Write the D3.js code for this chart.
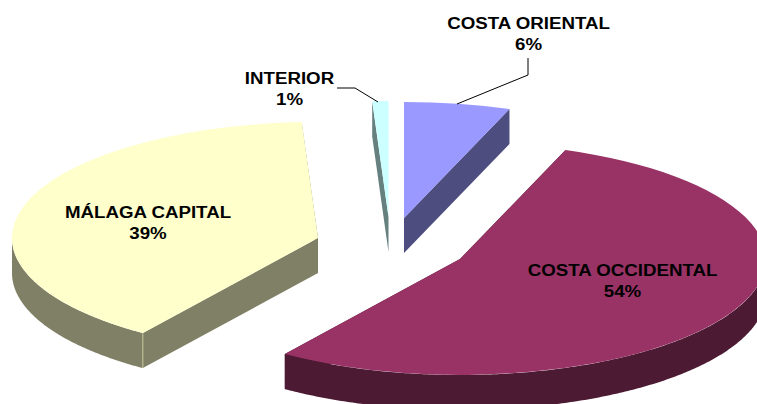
<!DOCTYPE html>
<html lang="es">
<head>
    <meta charset="UTF-8">
    <title>Distribución por zonas</title>
    <script src="https://d3js.org/d3.v7.min.js"></script>
    <style>
        html, body { margin: 0; padding: 0; background: #fff; overflow: hidden; }
        svg { display: block; }
        text {
            font-family: 'Liberation Sans', Arial, sans-serif;
            font-weight: bold;
            font-size: 17px;
            fill: #000;
            text-anchor: middle;
        }
    </style>
</head>
<body>
    <svg id="chart" width="757" height="404"></svg>

    <script>
        const zones = ['COSTA ORIENTAL', 'COSTA OCCIDENTAL', 'MÁLAGA CAPITAL', 'INTERIOR'];
        const shares = [5.6, 54.1, 39.45, 0.85];

        // Colores y posiciones de cada porción
        const topColors = ['#9999ff', '#993366', '#ffffcc', '#ccffff'];
        const sideColors = ['#4d4d80', '#4d1a33', '#808066', '#668080'];
        const centers = [[404, 218], [460, 259], [318, 238], [388.5, 217]];
        const labelPos = [[528.5, 29], [622.5, 276], [148, 218], [289.5, 84]];

        const rx = 306, ry = 116, depth = 35;

        const svg = d3.select('#chart');
        const pie = d3.pie().sort(null)(shares);
        const arc = d3.arc().innerRadius(0).outerRadius(1);
        const pct = d3.format('.0f');

        // Punto del borde de la elipse (ángulo desde arriba, horario)
        const edge = (a) => [rx * Math.sin(a), -ry * Math.cos(a)];
        const line = d3.line();

        pie.forEach((d, i) => {
            const g = svg.append('g')
                .attr('transform', `translate(${centers[i][0]},${centers[i][1]})`);
            const side = sideColors[i];

            // Paredes radiales
            [d.startAngle, d.endAngle].forEach(a => {
                const [x, y] = edge(a);
                g.append('path')
                    .attr('d', line([[0, 0], [x, y], [x, y + depth], [0, depth]]) + 'Z')
                    .attr('fill', side);
            });

            // Pared exterior, sólo la mitad delantera de la elipse
            const from = Math.max(d.startAngle, Math.PI / 2);
            const to = Math.min(d.endAngle, 3 * Math.PI / 2);
            if (from < to) {
                const angles = d3.range(from, to, 0.01).concat(to);
                const upper = angles.map(edge);
                const lower = upper.map(p => [p[0], p[1] + depth]).reverse();
                g.append('path')
                    .attr('d', line(upper.concat(lower)) + 'Z')
                    .attr('fill', side);

                // Arista clara donde se juntan la pared radial y la exterior
                if (d.startAngle > Math.PI / 2) {
                    const [x, y] = edge(d.startAngle);
                    g.append('path')
                        .attr('d', line([[x, y], [x, y + depth]]))
                        .attr('stroke', d3.color(side).brighter(1.2))
                        .attr('stroke-width', 1);
                }
            }

            // Cara superior
            g.append('path')
                .attr('d', arc(d))
                .attr('transform', `scale(${rx},${ry})`)
                .attr('fill', topColors[i]);
        });

        // Líneas guía
        const leaders = [
            [[457, 104], [528, 75], [528, 58]],
            [[378, 102], [355, 88], [337, 88]]
        ];
        leaders.forEach(pts => {
            svg.append('path')
                .attr('d', line(pts))
                .attr('fill', 'none')
                .attr('stroke', '#000')
                .attr('stroke-width', 1);
        });

        // Etiquetas (la letra del original es algo más ancha)
        zones.forEach((name, i) => {
            const t = svg.append('text')
                .attr('transform', `translate(${labelPos[i][0]},${labelPos[i][1]}) scale(1.1,1)`);
            t.append('tspan').text(name);
            t.append('tspan')
                .attr('x', 0)
                .attr('dy', 21.5)
                .text(pct(shares[i]) + '%');
        });
    </script>
</body>
</html>
